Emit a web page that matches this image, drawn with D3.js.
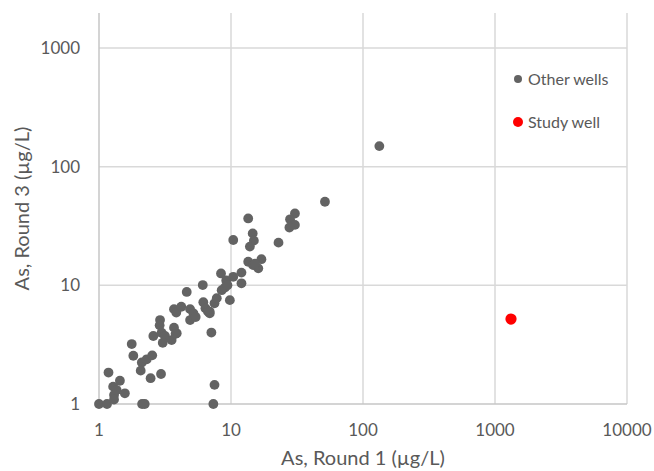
<!DOCTYPE html>
<meta charset="utf-8">
<head>
  <title>As round 1 vs round 3</title>
</head>
<body style="margin:0;background:#fff">
<style>
text { font-family: Lato, "Open Sans", sans-serif; fill: #595959; }
.tick { font-size: 17px; }
.title { font-size: 20px; }
.legend { font-size: 16px; }
</style>
<svg width="654" height="471"></svg>
<script src="https://d3js.org/d3.v7.min.js"></script>
<script>

// As in round 1 and round 3 (ug/L), other wells
var otherR1 = [1.0, 1.15, 2.12, 2.22, 7.35,
  1.18, 1.44, 1.28, 1.36, 1.57, 1.30, 1.30,
  1.77, 1.82, 2.11, 2.07, 2.30, 2.53, 2.46, 2.95,
  2.58, 2.98, 3.16, 3.04, 3.55, 3.88,
  2.9, 2.88, 3.7, 3.8, 3.7, 3.85, 4.2, 4.62,
  4.9, 5.2, 4.9, 5.4, 6.11, 6.17, 6.4, 6.7, 6.9, 7.1, 7.5,
  6.9, 7.5, 7.8, 8.4, 8.5, 9.0, 9.2, 9.4, 9.8,
  10.4, 10.4, 12.0, 12.0, 13.5, 14.6, 14.9, 13.9,
  13.5, 14.7, 17.0, 16.1, 15.2, 22.9,
  30.5, 28.0, 30.5, 27.7, 51.5, 133];
var otherR3 = [1, 1, 1, 1, 1,
  1.84, 1.57, 1.40, 1.31, 1.23, 1.19, 1.09,
  3.2, 2.55, 2.24, 1.91, 2.38, 2.57, 1.65, 1.79,
  3.74, 3.99, 3.74, 3.28, 3.46, 3.94,
  5.1, 4.6, 4.4, 3.9, 6.3, 5.9, 6.6, 8.8,
  6.3, 5.8, 5.1, 5.4, 10.05, 7.2, 6.4, 6.0, 5.8, 4.0, 1.45,
  6.0, 7.06, 7.8, 12.6, 9.1, 9.6, 11.0, 10.0, 7.5,
  24.1, 11.8, 12.8, 10.4, 36.6, 27.4, 23.8, 21.2,
  15.8, 14.8, 16.6, 13.9, 15.2, 22.9,
  40.3, 36.0, 32.3, 30.7, 50.6, 149];

// study well
var studyR1 = [1322];
var studyR3 = [5.2];

var xTicks = [1, 10, 100, 1000, 10000];
var yTicks = [1, 10, 100, 1000];
var legendNames = ["Other wells", "Study well"];
var legendColors = ["#636363", "#ff0000"];

var svg = d3.select("svg");

var x = d3.scaleLog().domain([1, 10000]).range([99, 627]);
var y = d3.scaleLog().domain([1, 1000]).range([404, 48]);
var plotTop = 13;

// grid
svg.append("g").selectAll("line")
  .data(yTicks.slice(1))
  .enter().append("line")
  .attr("x1", x(1)).attr("x2", x(10000))
  .attr("y1", function(d) { return y(d); })
  .attr("y2", function(d) { return y(d); })
  .attr("stroke", "#d9d9d9").attr("stroke-width", 1.5);

svg.append("g").selectAll("line")
  .data(xTicks.slice(1))
  .enter().append("line")
  .attr("x1", function(d) { return x(d); })
  .attr("x2", function(d) { return x(d); })
  .attr("y1", plotTop).attr("y2", y(1))
  .attr("stroke", "#d9d9d9").attr("stroke-width", 1.5);

// axis lines
svg.append("line").attr("x1", x(1)).attr("x2", x(1)).attr("y1", plotTop).attr("y2", y(1))
  .attr("stroke", "#c6c6c6").attr("stroke-width", 1.5);
svg.append("line").attr("x1", x(1)).attr("x2", x(10000)).attr("y1", y(1)).attr("y2", y(1))
  .attr("stroke", "#c6c6c6").attr("stroke-width", 1.5);

// tick labels
svg.append("g").selectAll("text")
  .data(xTicks)
  .enter().append("text")
  .attr("class", "tick")
  .attr("x", function(d) { return x(d); })
  .attr("y", 436)
  .attr("text-anchor", "middle")
  .text(function(d) { return d; });

svg.append("g").selectAll("text")
  .data(yTicks)
  .enter().append("text")
  .attr("class", "tick")
  .attr("x", 80)
  .attr("y", function(d) { return y(d); })
  .attr("dy", "0.35em")
  .attr("text-anchor", "end")
  .text(function(d) { return d; });

// titles
svg.append("text").attr("class", "title")
  .attr("x", x(100)).attr("y", 465)
  .attr("text-anchor", "middle")
  .text("As, Round 1 (µg/L)");

svg.append("text").attr("class", "title")
  .attr("transform", "translate(29," + (plotTop + y(1)) / 2 + ") rotate(-90)")
  .attr("text-anchor", "middle")
  .text("As, Round 3 (µg/L)");

// points
svg.append("g").selectAll("circle")
  .data(d3.range(otherR1.length))
  .enter().append("circle")
  .attr("cx", function(i) { return x(otherR1[i]); })
  .attr("cy", function(i) { return y(otherR3[i]); })
  .attr("r", 4.9)
  .attr("fill", legendColors[0]);

svg.append("g").selectAll("circle")
  .data(d3.range(studyR1.length))
  .enter().append("circle")
  .attr("cx", function(i) { return x(studyR1[i]); })
  .attr("cy", function(i) { return y(studyR3[i]); })
  .attr("r", 5.6)
  .attr("fill", legendColors[1]);

// legend
var lg = svg.append("g").selectAll("g")
  .data(legendNames)
  .enter().append("g")
  .attr("transform", function(d, i) { return "translate(518," + (79 + i * 43) + ")"; });

lg.append("circle")
  .attr("r", function(d, i) { return i == 0 ? 4 : 5; })
  .attr("fill", function(d, i) { return legendColors[i]; });

lg.append("text")
  .attr("class", "legend")
  .attr("x", 10)
  .attr("dy", "0.35em")
  .text(function(d) { return d; });

</script>
</body>
